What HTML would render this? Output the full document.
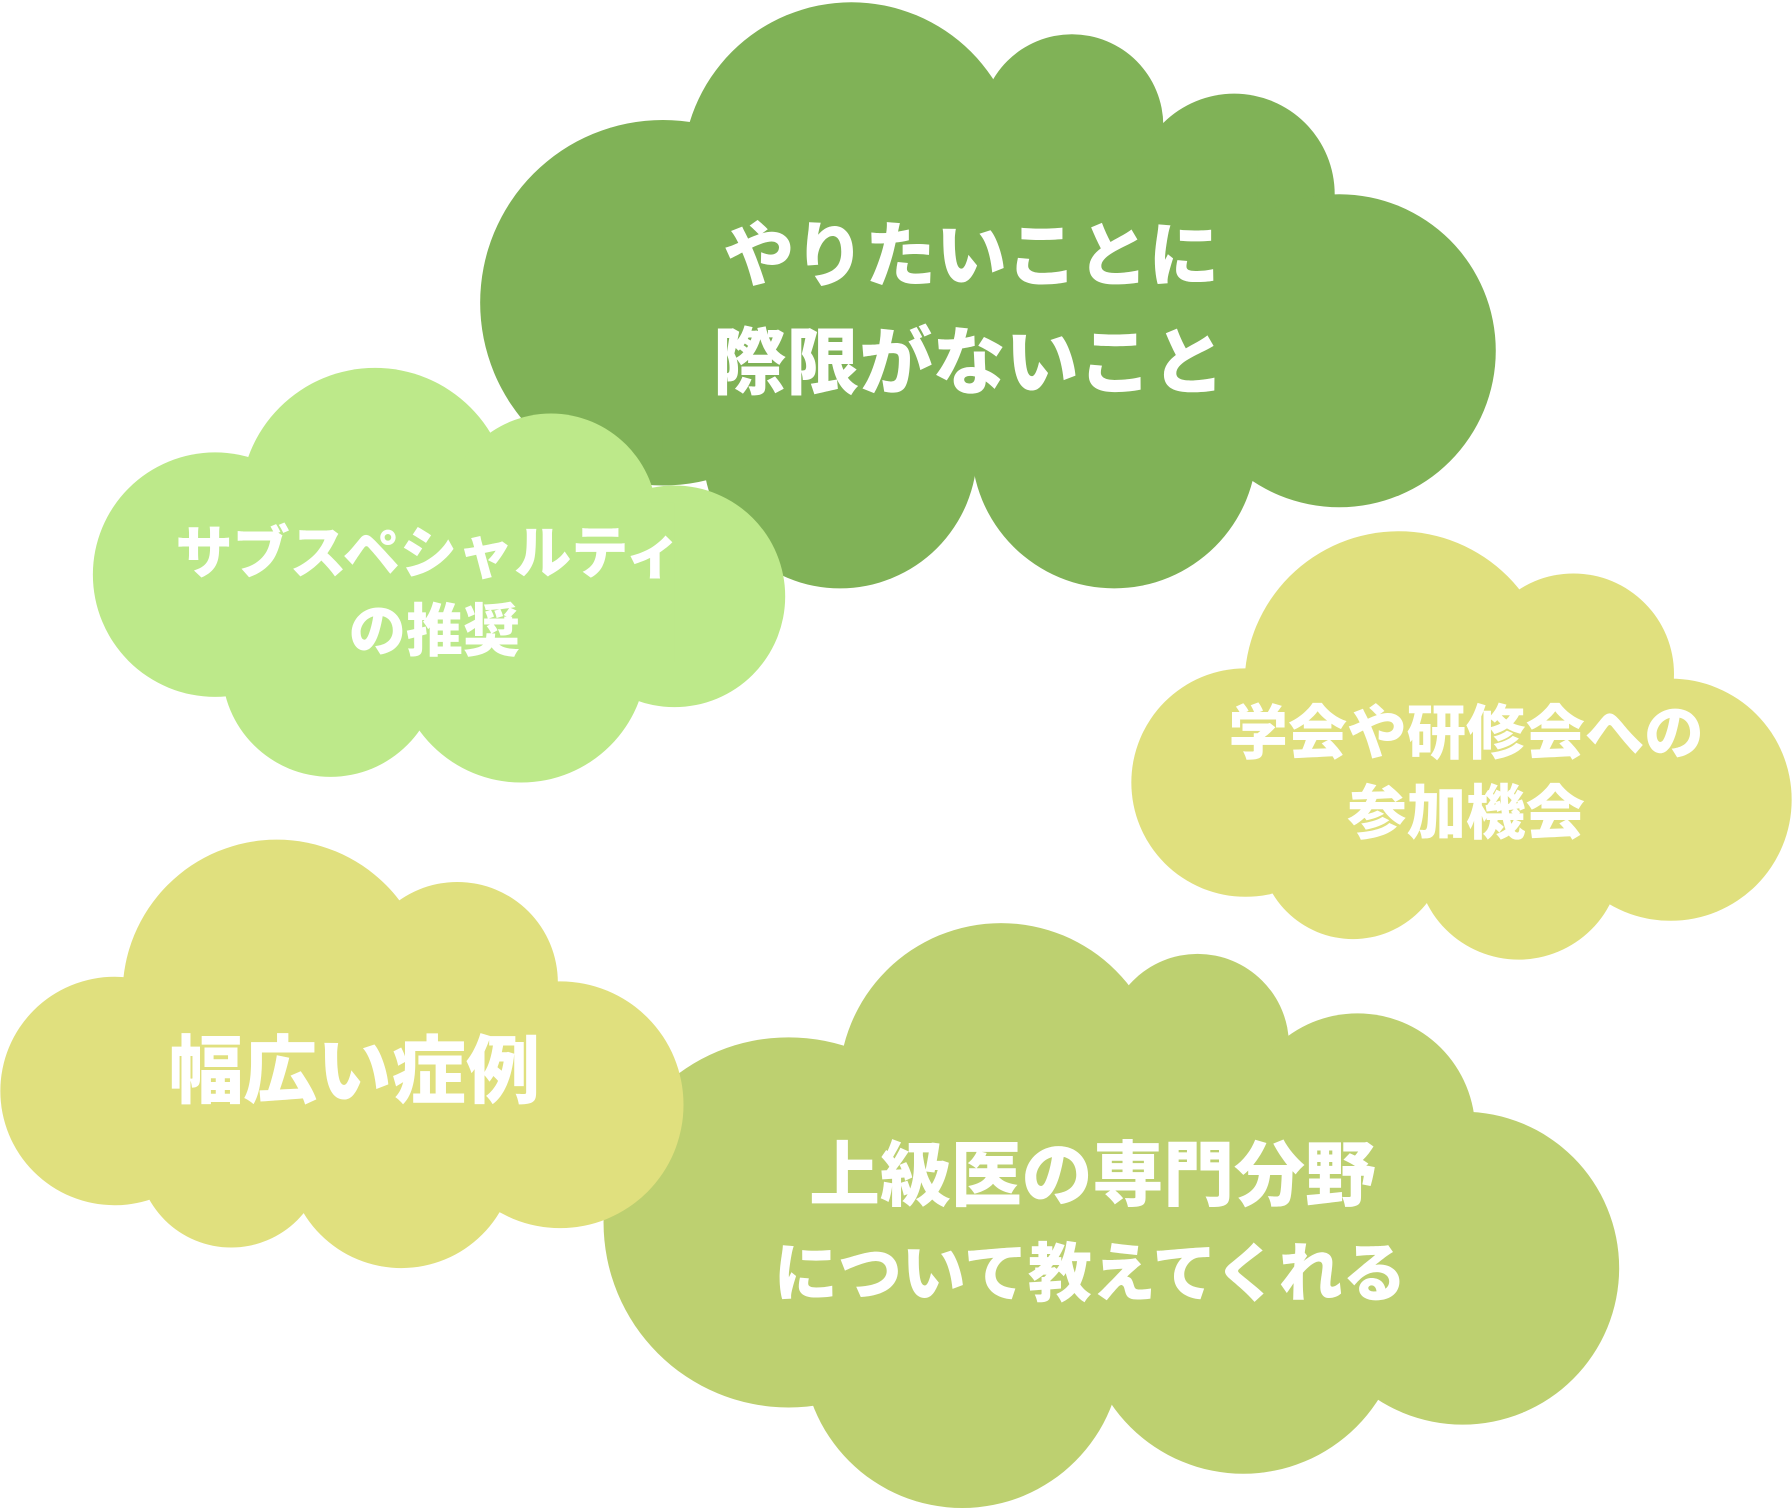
<!DOCTYPE html>
<html><head><meta charset="utf-8"><style>
html,body{margin:0;padding:0;background:#fff;}
svg{display:block;}
text{font-family:"Liberation Sans","Noto Sans CJK JP",sans-serif;font-weight:900;fill:#fff;text-anchor:middle;dominant-baseline:central;}
</style></head><body>
<svg width="1792" height="1508" viewBox="0 0 1568 1320" xmlns="http://www.w3.org/2000/svg">
<g fill="#80b257">
<circle cx="745" cy="150" r="148"/><circle cx="938" cy="110" r="80"/><circle cx="1080" cy="170" r="88"/>
<circle cx="1172" cy="307" r="137"/><circle cx="975" cy="390" r="125"/><circle cx="735" cy="395" r="120"/>
<circle cx="580" cy="265" r="160"/><rect x="580" y="200" width="600" height="200"/>
<rect x="700" y="140" width="400" height="260"/>
</g>
<g fill="#bde98a">
<circle cx="328" cy="440" r="118"/><circle cx="482" cy="455" r="93"/><circle cx="590" cy="522" r="97"/>
<circle cx="188" cy="503" r="107"/><circle cx="289" cy="585" r="95"/><circle cx="456" cy="575" r="110"/>
<rect x="188" y="440" width="402" height="140"/>
</g>
<g fill="#e0e07e">
<circle cx="1224" cy="600" r="135"/><circle cx="1377" cy="590" r="88"/><circle cx="1462" cy="700" r="106"/>
<circle cx="1090" cy="685" r="100"/><circle cx="1184" cy="740" r="82"/><circle cx="1329" cy="750" r="90"/>
<rect x="1090" y="600" width="372" height="150"/>
</g>
<g fill="#bdd070">
<circle cx="876" cy="950" r="142"/><circle cx="1048" cy="915" r="80"/><circle cx="1188" cy="990" r="103"/>
<circle cx="1280" cy="1110" r="137"/><circle cx="690" cy="1070" r="162"/><circle cx="842" cy="1180" r="140"/>
<circle cx="1088" cy="1150" r="140"/><rect x="690" y="950" width="590" height="220"/>
</g>
<g fill="#e0e07e">
<circle cx="242" cy="870" r="135"/><circle cx="400" cy="860" r="88"/><circle cx="490" cy="967" r="108"/>
<circle cx="100" cy="955" r="100"/><circle cx="202" cy="1010" r="82"/><circle cx="351" cy="1010" r="100"/>
<rect x="100" y="870" width="390" height="150"/>
</g>
<text x="850" y="225" font-size="62">やりたいことに</text>
<text x="848" y="318" font-size="64">際限がないこと</text>
<text x="375" y="485" font-size="50">サブスペシャルティ</text>
<text x="380" y="553" font-size="50">の推奨</text>
<text x="1283" y="642" font-size="52">学会や研修会への</text>
<text x="1283" y="712" font-size="52">参加機会</text>
<text x="310" y="938" font-size="65">幅広い症例</text>
<text x="956" y="1030" font-size="62">上級医の専門分野</text>
<text x="954" y="1115" font-size="56">について教えてくれる</text>
</svg>
</body></html>
